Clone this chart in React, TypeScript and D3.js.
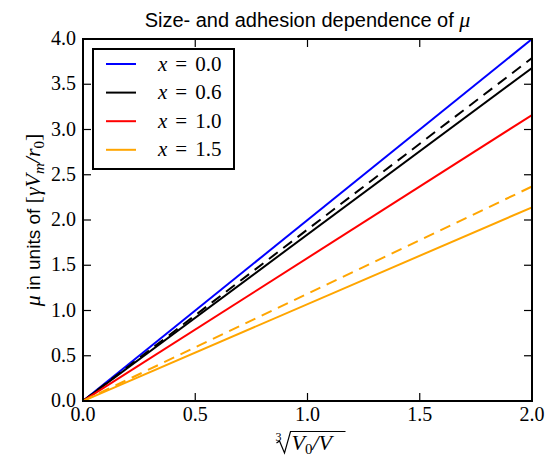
import React from "react";
import * as d3 from "d3";

// values: every curve is a straight line from the origin
const xValues = [0, 2];
const blueX00 = [0, 4.0];
const blackX06 = [0, 3.68];
const blackX06Dashed = [0, 3.79];
const redX10 = [0, 3.16];
const orangeX15 = [0, 2.14];
const orangeX15Dashed = [0, 2.37];

const xTicks = [0, 0.5, 1.0, 1.5, 2.0];
const yTicks = [0, 0.5, 1.0, 1.5, 2.0, 2.5, 3.0, 3.5, 4.0];
const legendLabels = ["0.0", "0.6", "1.0", "1.5"];

const W = 547;
const H = 461;
const margin = { top: 39, right: 15, bottom: 60, left: 83 };

const serif = "'Liberation Serif', 'DejaVu Serif', serif";
const sans = "'Liberation Sans', Arial, sans-serif";

export default function App() {
  const width = W - margin.left - margin.right;
  const height = H - margin.top - margin.bottom;

  const x = d3.scaleLinear().domain([0, 2]).range([0, width]);
  const y = d3.scaleLinear().domain([0, 4]).range([height, 0]);

  const line = d3
    .line<number>()
    .x((d, i) => x(xValues[i]))
    .y((d) => y(d));

  const series = [
    { values: blueX00, color: "#0000ff", dash: null },
    { values: blackX06Dashed, color: "#000000", dash: "11,7" },
    { values: blackX06, color: "#000000", dash: null },
    { values: redX10, color: "#ff0000", dash: null },
    { values: orangeX15Dashed, color: "#ffa500", dash: "11,7" },
    { values: orangeX15, color: "#ffa500", dash: null },
  ];
  const legendColors = ["#0000ff", "#000000", "#ff0000", "#ffa500"];

  return (
    <svg
      width={W}
      height={H}
      style={{ position: "absolute", left: 0, top: 0, background: "#fff" }}
    >
      {/* title */}
      <text
        x={margin.left + width / 2}
        y={27}
        textAnchor="middle"
        fontFamily={sans}
        fontSize={20}
      >
        Size- and adhesion dependence of{" "}
        <tspan fontFamily={serif} fontStyle="italic" fontSize={22}>
          μ
        </tspan>
      </text>

      <g transform={`translate(${margin.left},${margin.top})`}>
        <defs>
          <clipPath id="plot-clip">
            <rect x={0} y={0} width={width} height={height} />
          </clipPath>
        </defs>

        <g clipPath="url(#plot-clip)">
          {series.map((s, i) => (
            <path
              key={i}
              d={line(s.values) || ""}
              fill="none"
              stroke={s.color}
              strokeWidth={2}
              strokeDasharray={s.dash || undefined}
            />
          ))}
        </g>

        {/* ticks, inside on all four sides */}
        {xTicks.map((t) => (
          <g key={"x" + t}>
            <line x1={x(t)} x2={x(t)} y1={height} y2={height - 8} stroke="#000" strokeWidth={1.2} />
            <line x1={x(t)} x2={x(t)} y1={0} y2={8} stroke="#000" strokeWidth={1.2} />
            <text
              x={x(t)}
              y={height + 20}
              textAnchor="middle"
              fontFamily={serif}
              fontSize={20}
            >
              {t.toFixed(1)}
            </text>
          </g>
        ))}
        {yTicks.map((t) => (
          <g key={"y" + t}>
            <line x1={0} x2={8} y1={y(t)} y2={y(t)} stroke="#000" strokeWidth={1.2} />
            <line x1={width} x2={width - 8} y1={y(t)} y2={y(t)} stroke="#000" strokeWidth={1.2} />
            <text
              x={-7}
              y={y(t) + 6}
              textAnchor="end"
              fontFamily={serif}
              fontSize={20}
            >
              {t.toFixed(1)}
            </text>
          </g>
        ))}

        <rect x={0} y={0} width={width} height={height} fill="none" stroke="#000" strokeWidth={2} />

        {/* legend */}
        <g transform="translate(10,10)">
          <rect x={0} y={0} width={141} height={120} fill="#fff" stroke="#000" strokeWidth={2} />
          {legendLabels.map((lab, i) => (
            <g key={lab} transform={`translate(0,${15 + i * 28.6})`}>
              <line x1={13} x2={43} y1={0} y2={0} stroke={legendColors[i]} strokeWidth={2} />
              <text x={65} y={6.5} fontFamily={serif} fontSize={21}>
                <tspan fontStyle="italic">x</tspan>
                <tspan dx={8}>=</tspan>
                <tspan dx={8}>{lab}</tspan>
              </text>
            </g>
          ))}
        </g>
      </g>

      {/* x axis label: cube root of V0/V */}
      <g transform={`translate(${margin.left + width / 2},0)`}>
        <text x={-32} y={441} fontFamily={serif} fontSize={12}>
          3
        </text>
        <path
          d="M-31,443 L-28,441 L-23,453 L-17,431.5 L38,431.5"
          fill="none"
          stroke="#000"
          strokeWidth={1.2}
        />
        <text x={-16} y={450} fontFamily={serif} fontSize={22} fontStyle="italic">
          V<tspan fontStyle="normal" fontSize={15} dy={4}>0</tspan>
          <tspan dy={-4}>/V</tspan>
        </text>
      </g>

      {/* y axis label */}
      <text
        transform={`translate(40,${margin.top + height / 2}) rotate(-90)`}
        textAnchor="middle"
        fontFamily={sans}
        fontSize={19}
      >
        <tspan fontFamily={serif} fontStyle="italic" fontSize={22}>μ</tspan> in units of{" "}
        <tspan fontFamily={serif} fontSize={22}>[</tspan>
        <tspan fontFamily={serif} fontStyle="italic" fontSize={22}>γV</tspan>
        <tspan fontFamily={serif} fontStyle="italic" fontSize={15} dy={4}>m</tspan>
        <tspan fontFamily={serif} fontStyle="italic" fontSize={22} dy={-4}>/r</tspan>
        <tspan fontFamily={serif} fontSize={15} dy={4}>0</tspan>
        <tspan fontFamily={serif} fontSize={22} dy={-4}>]</tspan>
      </text>
    </svg>
  );
}
